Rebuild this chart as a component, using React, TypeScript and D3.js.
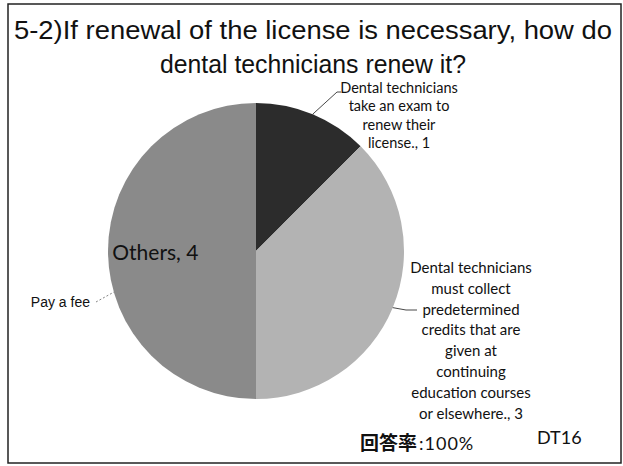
import React from "react";
import * as d3 from "d3";

const titleLines = ["5-2)If renewal of the license is necessary, how do", "dental technicians renew it?"];
const categories = [
  "Dental technicians take an exam to renew their license.",
  "Dental technicians must collect predetermined credits that are given at continuing education courses or elsewhere.",
  "Others",
];
const values = [1, 3, 4];
const colors = ["#2c2c2c", "#b3b3b3", "#8a8a8a"];
const examLabel = ["Dental technicians", "take an exam to", "renew their", "license., 1"];
const creditLabel = [
  "Dental technicians",
  "must collect",
  "predetermined",
  "credits that are",
  "given at",
  "continuing",
  "education courses",
  "or elsewhere., 3",
];
const othersLabel = "Others, 4";
const feeLabel = "Pay a fee";
const responseRateLabel = "回答率";
const responseRateValue = ":100%";
const codeLabel = "DT16";

const W = 623;
const H = 466;
const cx = 256;
const cy = 251;
const R = 148;
const labelFont = "Lato, 'Open Sans', sans-serif";
const arialFont = "'Liberation Sans', Arial, sans-serif";

export default function App() {
  const data = categories.map((c, i) => ({ c, v: values[i] }));
  const pie = d3.pie<any>().sort(null).value((d: any) => d.v).startAngle(0);
  const arcs = pie(data);
  const arc = d3.arc<any>().innerRadius(0).outerRadius(R);
  const edge = d3.arc<any>().innerRadius(R).outerRadius(R);
  const inner = d3.arc<any>().innerRadius(R * 0.68).outerRadius(R * 0.68);

  const examEdge = edge.centroid(arcs[0]);
  const creditEdge = edge.centroid(arcs[1]);
  const othersPos = inner.centroid(arcs[2]);

  const line = d3.line();
  const titleWidths = [598, 306];

  return (
    <svg width={W} height={H} style={{ position: "absolute", left: 0, top: 0, background: "#fff" }}>
      <rect x={8} y={4} width={613} height={459} fill="#fff" stroke="#222" strokeWidth={1.5} />
      {titleLines.map((t, i) => (
        <text
          key={t}
          x={313}
          y={39 + i * 34}
          textAnchor="middle"
          fontFamily={arialFont}
          fontSize={25}
          textLength={titleWidths[i]}
          lengthAdjust="spacingAndGlyphs"
          fill="#111"
        >
          {t}
        </text>
      ))}
      <g transform={`translate(${cx},${cy})`}>
        {arcs.map((a, i) => (
          <path key={i} d={arc(a) || ""} fill={colors[i]} />
        ))}
      </g>
      <text
        x={cx + othersPos[0]}
        y={cy + othersPos[1]}
        textAnchor="middle"
        dominantBaseline="central"
        fontFamily={labelFont}
        fontSize={21}
        fill="#111"
      >
        {othersLabel}
      </text>
      {examLabel.map((t, i) => (
        <text
          key={t}
          x={399}
          y={87 + i * 18.6}
          textAnchor="middle"
          dominantBaseline="central"
          fontFamily={labelFont}
          fontSize={14.5}
          fill="#111"
        >
          {t}
        </text>
      ))}
      <path
        d={line([[cx + examEdge[0], cy + examEdge[1]], [337, 92], [341, 92]]) || ""}
        fill="none"
        stroke="#333"
        strokeWidth={0.9}
      />
      {creditLabel.map((t, i) => (
        <text
          key={t}
          x={471}
          y={267 + i * 20.8}
          textAnchor="middle"
          dominantBaseline="central"
          fontFamily={labelFont}
          fontSize={15}
          fill="#111"
        >
          {t}
        </text>
      ))}
      <path
        d={line([[cx + creditEdge[0], cy + creditEdge[1]], [406, 310], [417, 310]]) || ""}
        fill="none"
        stroke="#333"
        strokeWidth={0.9}
      />
      <text
        x={90}
        y={302}
        textAnchor="end"
        dominantBaseline="central"
        fontFamily={arialFont}
        fontSize={14}
        fill="#111"
      >
        {feeLabel}
      </text>
      <path
        d={line([[96, 302], [114, 292]]) || ""}
        fill="none"
        stroke="#777"
        strokeWidth={0.9}
        strokeDasharray="2,2"
      />
      <text x={360} y={450} fill="#111">
        <tspan fontFamily="'Noto Sans CJK JP', sans-serif" fontSize={19} fontWeight={700}>
          {responseRateLabel}
        </tspan>
        <tspan fontFamily={labelFont} fontSize={18} dx={2} letterSpacing={1}>
          {responseRateValue}
        </tspan>
      </text>
      <text x={537} y={444} fontFamily={labelFont} fontSize={18} fill="#111">
        {codeLabel}
      </text>
    </svg>
  );
}
